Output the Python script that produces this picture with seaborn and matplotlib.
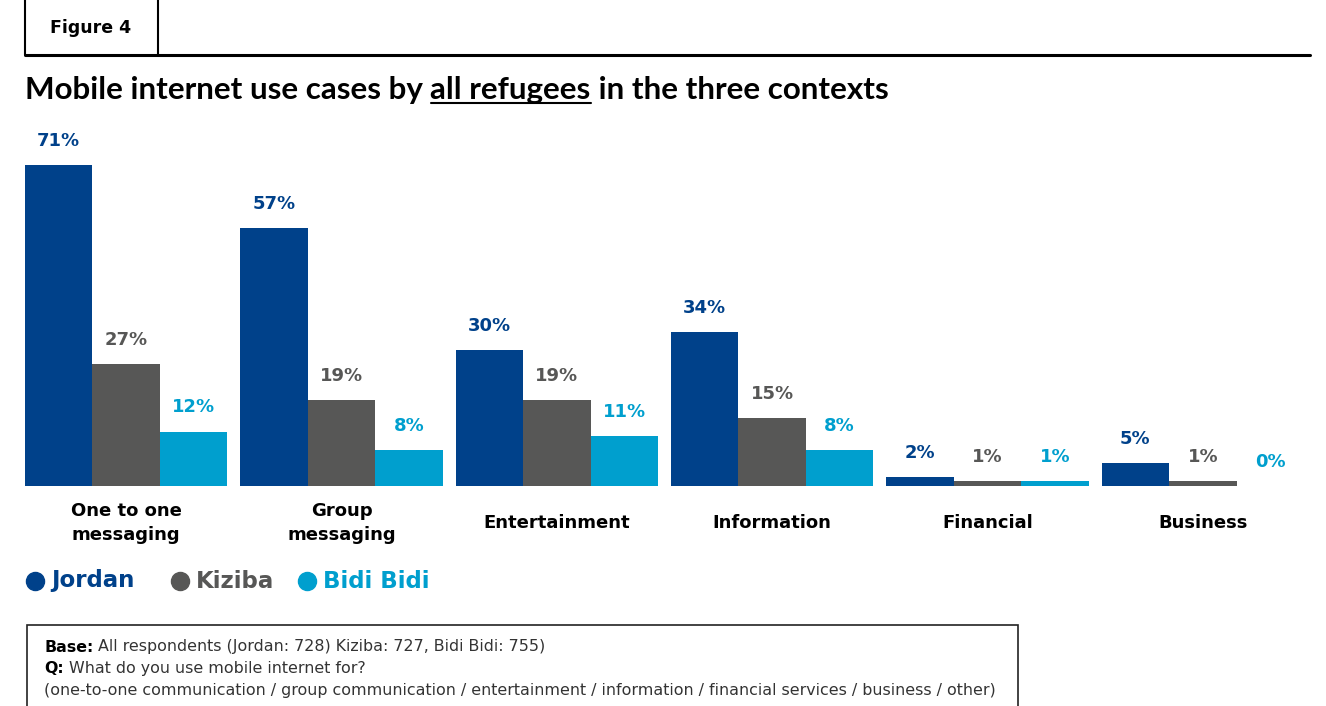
import matplotlib
matplotlib.use("Agg")
import matplotlib.pyplot as plt
import seaborn as sns
import pandas as pd
from matplotlib.lines import Line2D
from matplotlib.patches import Rectangle

categories = ["One to one\nmessaging", "Group\nmessaging", "Entertainment",
              "Information", "Financial", "Business"]
series = ["Jordan", "Kiziba", "Bidi Bidi"]
jordan = [71, 57, 30, 34, 2, 5]
kiziba = [27, 19, 19, 15, 1, 1]
bidi = [12, 8, 11, 8, 1, 0]
colors = ["#00418A", "#575756", "#009FCE"]

title_parts = ["Mobile internet use cases by ", "all refugees", " in the three contexts"]
figure_label = "Figure 4"
note_lines = [("Base:", " All respondents (Jordan: 728) Kiziba: 727, Bidi Bidi: 755)"),
              ("Q:", " What do you use mobile internet for?"),
              ("", "(one-to-one communication / group communication / entertainment / information / financial services / business / other)")]

rows = []
for s, vals in zip(series, [jordan, kiziba, bidi]):
    for c, v in zip(categories, vals):
        rows.append({"category": c, "series": s, "value": v})
df = pd.DataFrame(rows)

sns.set_theme(style="white")
plt.rcParams["font.family"] = ["DejaVu Sans"]

W, H = 1326, 706
fig = plt.figure(figsize=(W / 100, H / 100), dpi=100)

# axes: x from 25px to 1304px, baseline at y=486px, 4.52 px per %
ymax = 80
ax_left, ax_right = 25, 1304
base = 486
ax_h = ymax * 4.52
ax = fig.add_axes([ax_left / W, (H - base) / H, (ax_right - ax_left) / W, ax_h / H])

sns.barplot(data=df, x="category", y="value", hue="series", palette=colors,
            width=0.94, saturation=1, ax=ax, legend=False, linewidth=0)
ax.set_xlim(-0.47, 5.47)
ax.set_ylim(0, ymax)
ax.set_axis_off()

# value labels
for cont, col in zip(ax.containers, colors):
    for bar in cont:
        h = bar.get_height()
        ax.annotate(f"{int(round(h))}%", (bar.get_x() + bar.get_width() / 2, h),
                    xytext=(0, 11), textcoords="offset points", ha="center", va="bottom",
                    fontsize=13, fontweight="bold", color=col)

# category labels
for i, c in enumerate(categories):
    ax.annotate(c, (i, 0), xycoords=ax.get_xaxis_transform(), xytext=(0, -26.5),
                textcoords="offset points", ha="center", va="center",
                fontsize=13, fontweight="bold", color="black", linespacing=1.4)

# legend (dot markers + coloured bold labels)
fig.canvas.draw()
r = fig.canvas.get_renderer()
ly = (H - 581) / H
for s, c, dx in zip(series, colors, [35, 180, 307]):
    fig.add_artist(Line2D([dx / W], [ly], marker="o", linestyle="", markersize=13,
                          markerfacecolor=c, markeredgecolor=c))
    fig.text((dx + 16) / W, ly, s, ha="left", va="center", fontsize=16.5,
             fontweight="bold", color=c)

# Figure label box and rule
fig.add_artist(Line2D([25 / W, 25 / W], [1, (H - 55) / H], color="black", lw=1.5))
fig.add_artist(Line2D([158 / W, 158 / W], [1, (H - 55) / H], color="black", lw=1.5))
fig.add_artist(Line2D([25 / W, 1310 / W], [(H - 55) / H, (H - 55) / H], color="black", lw=2.2))
fig.text(91 / W, (H - 28) / H, figure_label, ha="center", va="center",
         fontsize=12.5, fontweight="bold", color="black")

# title with underline
x = 25
ty = (H - 90) / H
title_font = dict(fontsize=22.6, fontweight="bold", color="black", family=["Lato", "DejaVu Sans"])
for k, part in enumerate(title_parts):
    t = fig.text(x / W, ty, part, ha="left", va="center", **title_font)
    bb = t.get_window_extent(renderer=r)
    if k == 1:
        uy = (H - 103) / H
        fig.add_artist(Line2D([x / W, (x + bb.width) / W], [uy, uy], color="black", lw=1.5))
    x += bb.width

# footnote box
fig.add_artist(Rectangle((27 / W, -0.01), (1018 - 27) / W, (H - 625) / H + 0.01,
                         transform=fig.transFigure, fill=False, edgecolor="#222222", lw=1.2))
for j, (b, rest) in enumerate(note_lines):
    y = (H - (647 + j * 21.5)) / H
    xx = 44
    if b:
        t = fig.text(xx / W, y, b, ha="left", va="center", fontsize=11.45,
                     fontweight="bold", color="black")
        xx += t.get_window_extent(renderer=r).width
    fig.text(xx / W, y, rest, ha="left", va="center", fontsize=11.45, color="#333333")

fig.savefig("out.png", dpi=100)
